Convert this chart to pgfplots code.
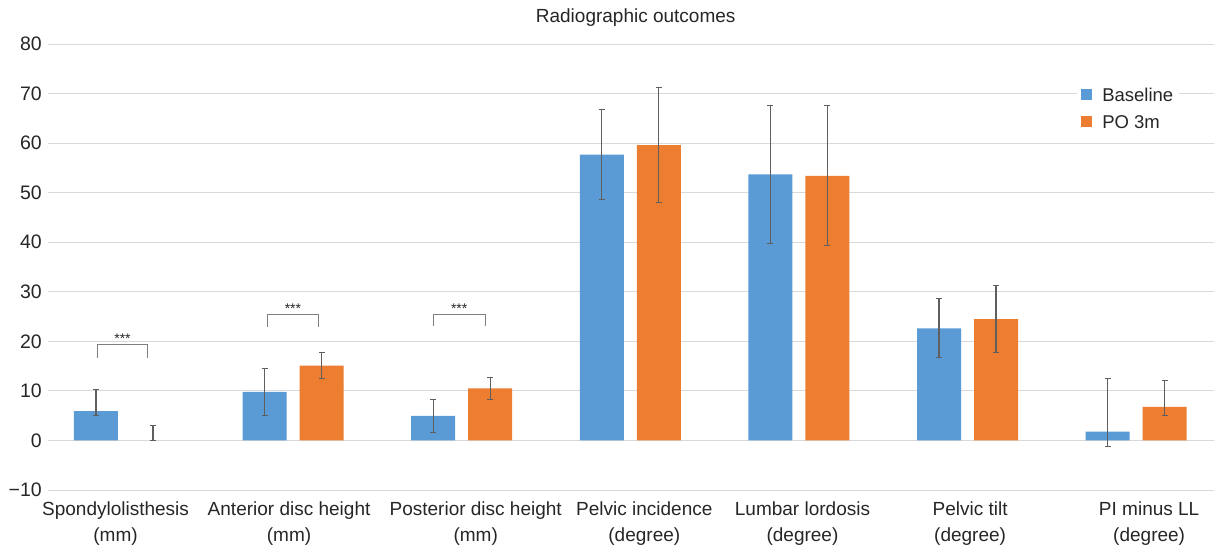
\documentclass[border=0pt]{standalone}
\usepackage{fontspec}
\setmainfont{Liberation Sans}
\usepackage{pgfplots}
\pgfplotsset{compat=1.18}
\definecolor{cblue}{HTML}{5B9BD5}
\definecolor{corange}{HTML}{ED7D31}
\definecolor{gridc}{HTML}{D9D9D9}
\definecolor{errc}{HTML}{5F5F5F}
\definecolor{txt}{HTML}{262626}
\pgfplotsset{myerr/.style={error bars/.cd, y dir=both, y explicit,
  error bar style={color=errc, line width=1.3pt},
  error mark options={rotate=90, mark size=3pt, line width=1.1pt, errc}}}
\begin{document}
\begin{tikzpicture}
\useasboundingbox (-48pt,-54pt) rectangle (1166pt,490pt);
\begin{axis}[
  scale only axis,
  width=1166pt, height=446pt,
  xmin=-0.4537, xmax=6.462,
  ymin=-10, ymax=80,
  ybar, bar width=44pt,
  axis line style={draw=none},
  tick style={draw=none},
  ymajorgrids, major grid style={gridc, line width=1pt},
  ytick={-10,0,10,20,30,40,50,60,70,80},
  yticklabels={−10,0,10,20,30,40,50,60,70,80},
  yticklabel style={font=\fontsize{19.5}{23}\selectfont, text=txt, anchor=east, inner sep=0pt, xshift=-6pt},
  xtick={-0.053,0.976,2.083,3.083,4.021,5.015,6.077},
  xticklabels={{Spondylolisthesis\\(mm)},{Anterior disc height\\(mm)},{Posterior disc height\\(mm)},{Pelvic incidence\\(degree)},{Lumbar lordosis\\(degree)},{Pelvic tilt\\(degree)},{PI minus LL\\(degree)}},
  xticklabel style={font=\fontsize{19}{26.5}\selectfont, text=txt, align=center, anchor=north, inner sep=0pt, yshift=-7pt},
  title={Radiographic outcomes},
  title style={at={(0.504,1)}, anchor=base, yshift=15.3pt, font=\fontsize{19}{23}\selectfont, text=txt, inner sep=0pt},
  legend style={at={(0.8825,0.9126)}, anchor=north west, fill=white, draw=none,
    font=\fontsize{18.5}{22}\selectfont, text=txt, inner xsep=4pt, inner ysep=2pt,
    nodes={text height=14pt, text depth=4pt, inner sep=2pt}, row sep=5pt},
  legend cell align=left,
  legend image code/.code={\path[#1, draw=none] (0pt,-4pt) rectangle (11pt,7pt); \path (19pt,0pt);},
]
\addplot[fill=cblue, draw=none, bar shift=-28.5pt, myerr] coordinates {
  (0,5.9) += (0,4.4) -= (0,0.9)
  (1,9.8) += (0,4.7) -= (0,4.7)
  (2,4.95) += (0,3.35) -= (0,3.35)
  (3,57.7) += (0,9.1) -= (0,9.0)
  (4,53.7) += (0,13.9) -= (0,13.9)
  (5,22.6) += (0,6.0) -= (0,5.9)
  (6,1.8) += (0,10.7) -= (0,3.0)
};
\addlegendentry{Baseline}
\addplot[fill=corange, draw=none, bar shift=28.5pt, myerr] coordinates {
  (1,15.1) += (0,2.6) -= (0,2.6)
  (2,10.5) += (0,2.25) -= (0,2.2)
  (3,59.6) += (0,11.6) -= (0,11.5)
  (4,53.4) += (0,14.2) -= (0,14.0)
  (5,24.5) += (0,6.7) -= (0,6.8)
  (6,6.8) += (0,5.3) -= (0,1.8)
};
\addlegendentry{PO 3m}
% PO 3m spondylolisthesis: value 0, error bar only
\addplot[forget plot, fill=none, draw=none, bar shift=28.5pt, myerr] coordinates {
  (0,0) += (0,3.0) -= (0,0)
};
% significance brackets
\addplot[sharp plot, no marks, forget plot, color=black!50, line width=1pt] coordinates {(-0.163,16.7) (-0.163,19.4) (0.139,19.4) (0.139,16.7)};
\addplot[sharp plot, no marks, forget plot, color=black!50, line width=1pt] coordinates {(0.850,22.9) (0.850,25.5) (1.148,25.5) (1.148,22.9)};
\addplot[sharp plot, no marks, forget plot, color=black!50, line width=1pt] coordinates {(1.831,23.0) (1.831,25.5) (2.139,25.5) (2.139,23.0)};
\node[anchor=base, inner sep=0pt, font=\fontsize{14}{16}\selectfont, text=txt] at (axis cs:-0.012,19.6) {***};
\node[anchor=base, inner sep=0pt, font=\fontsize{14}{16}\selectfont, text=txt] at (axis cs:0.999,25.7) {***};
\node[anchor=base, inner sep=0pt, font=\fontsize{14}{16}\selectfont, text=txt] at (axis cs:1.985,25.7) {***};
\end{axis}
\end{tikzpicture}
\end{document}
